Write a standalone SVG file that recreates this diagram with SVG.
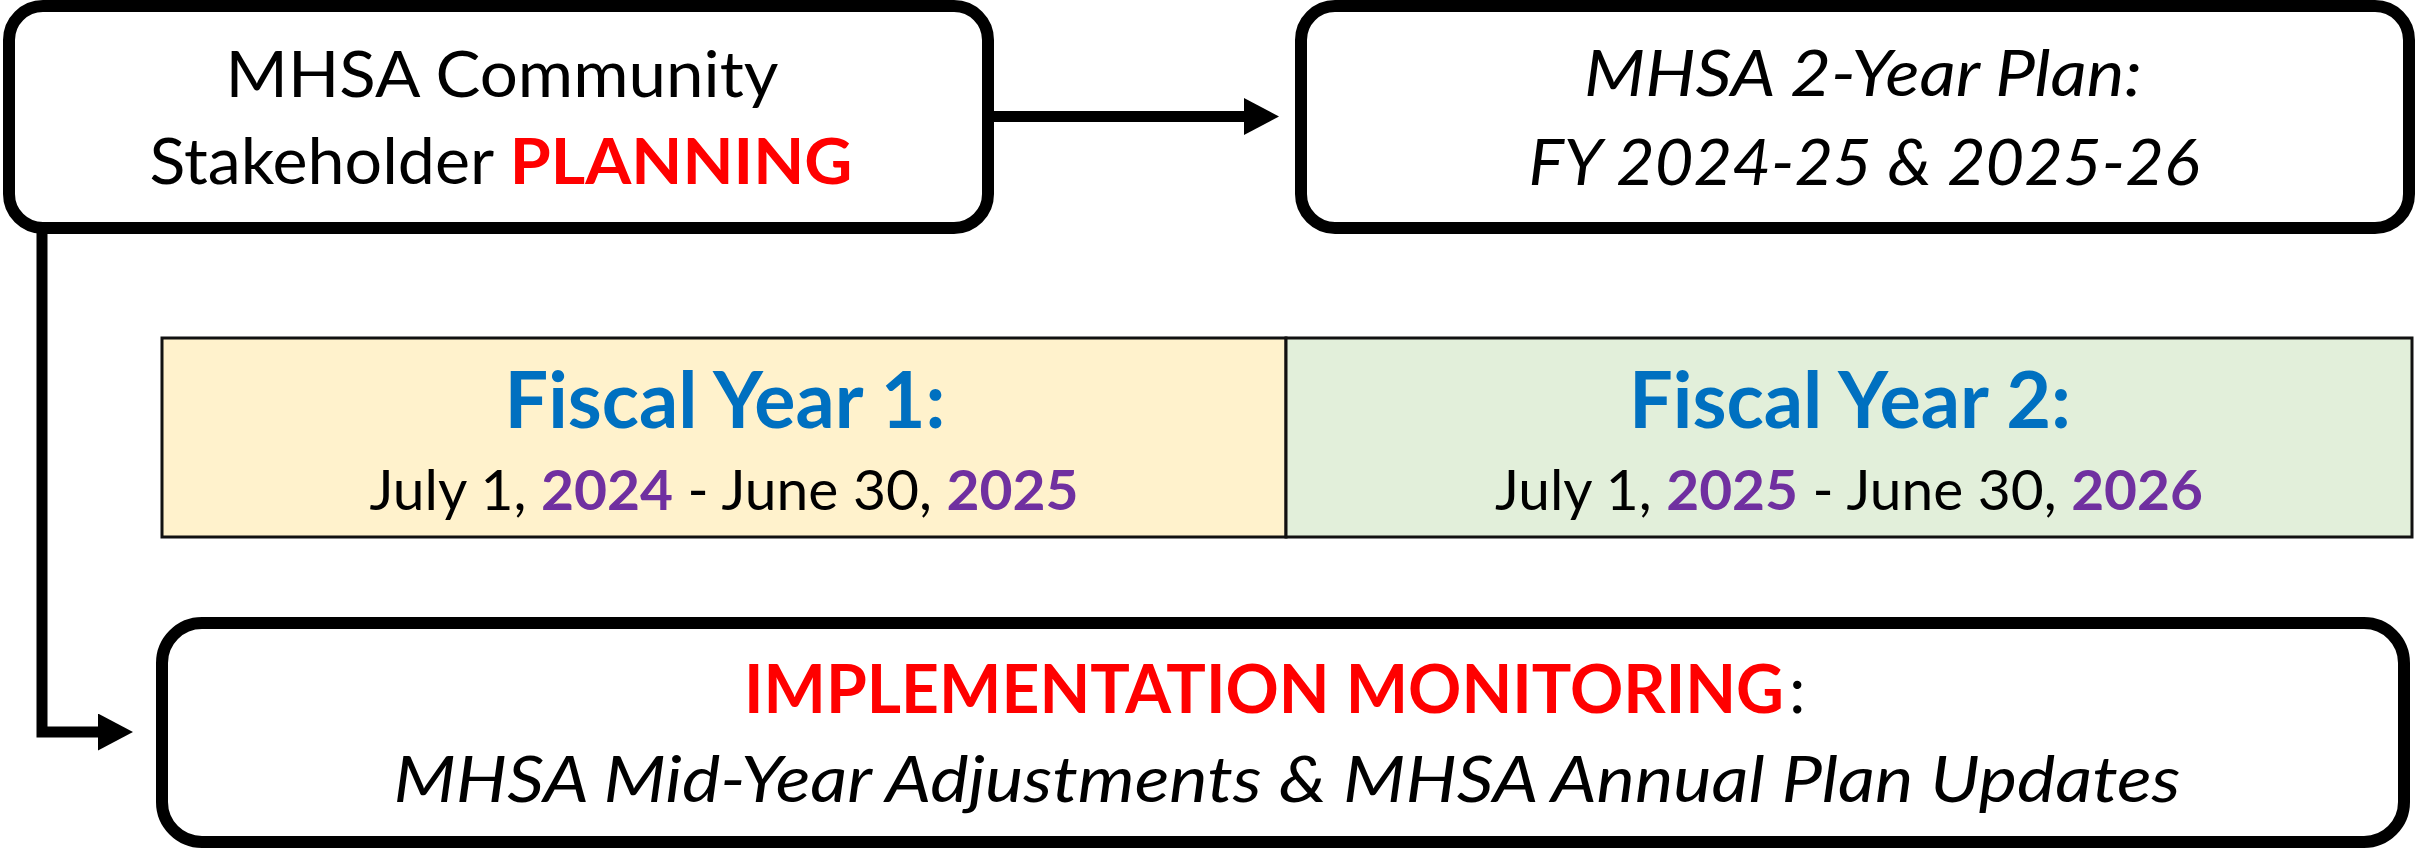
<svg xmlns="http://www.w3.org/2000/svg" width="2415" height="848" viewBox="0 0 2415 848">
  <style>
    .box { fill: #ffffff; stroke: #000000; stroke-width: 12; }
    .cell { stroke: #111111; stroke-width: 3; }
    .t { font-family: Lato, "Liberation Sans", sans-serif; fill: #000000; text-anchor: middle; }
    .s { text-anchor: start; }
    .e { text-anchor: end; }
    .it { font-style: italic; }
    .red { fill: #ff0000; font-weight: bold; }
    .blue { fill: #0070c0; font-weight: bold; }
    .purple { fill: #7030a0; font-weight: bold; }
    .conn { fill: none; stroke: #000000; stroke-width: 11; stroke-linejoin: miter; }
  </style>
  <defs>
    <marker id="arrow" markerUnits="userSpaceOnUse" viewBox="0 0 35 37" refX="0" refY="18.5" markerWidth="35" markerHeight="37" orient="auto">
      <path d="M0,0 L35,18.5 L0,37 Z" fill="#000000"/>
    </marker>
  </defs>

  <g id="connectors">
    <path class="conn" d="M994,116.5 H1244" marker-end="url(#arrow)"/>
    <path class="conn" d="M42,228 V732 H98" marker-end="url(#arrow)"/>
  </g>

  <g id="planning">
    <rect class="box" x="9" y="6" width="979" height="222" rx="34" ry="34"/>
    <text class="t" x="502" y="97" font-size="64" textLength="553" lengthAdjust="spacingAndGlyphs">MHSA Community</text>
    <text class="t" x="501" y="184" font-size="64" textLength="703" lengthAdjust="spacingAndGlyphs">Stakeholder <tspan class="red">PLANNING</tspan></text>
  </g>

  <g id="plan">
    <rect class="box" x="1301" y="6" width="1108" height="222" rx="34" ry="34"/>
    <text class="t it" x="1863" y="96" font-size="64" textLength="558" lengthAdjust="spacingAndGlyphs">MHSA 2-Year Plan:</text>
    <text class="t it" x="1864" y="185" font-size="64" textLength="671" lengthAdjust="spacingAndGlyphs">FY 2024-25 &amp; 2025-26</text>
  </g>

  <g id="fiscal-year-1">
    <rect class="cell" x="162" y="338" width="1124" height="199" fill="#fff2cc"/>
    <text class="t blue" x="725" y="428" font-size="78" textLength="441" lengthAdjust="spacingAndGlyphs">Fiscal Year 1:</text>
    <text class="t" x="724" y="510" font-size="56" textLength="709" lengthAdjust="spacingAndGlyphs">July 1, <tspan class="purple">2024</tspan> - June 30, <tspan class="purple">2025</tspan></text>
  </g>

  <g id="fiscal-year-2">
    <rect class="cell" x="1286" y="338" width="1126" height="199" fill="#e2efda"/>
    <text class="t blue" x="1850" y="428" font-size="78" textLength="442" lengthAdjust="spacingAndGlyphs">Fiscal Year 2:</text>
    <text class="t" x="1849" y="510" font-size="56" textLength="708" lengthAdjust="spacingAndGlyphs">July 1, <tspan class="purple">2025</tspan> - June 30, <tspan class="purple">2026</tspan></text>
  </g>

  <g id="monitoring">
    <rect class="box" x="162" y="623" width="2242" height="219" rx="40" ry="40"/>
    <text class="t e red" x="1784" y="713" font-size="66">IMPLEMENTATION MONITORING</text>
    <text class="t s" x="1789" y="713" font-size="66">:</text>
    <text class="t it" x="1287" y="802" font-size="64" textLength="1787" lengthAdjust="spacingAndGlyphs">MHSA Mid-Year Adjustments &amp; MHSA Annual Plan Updates</text>
  </g>
</svg>
